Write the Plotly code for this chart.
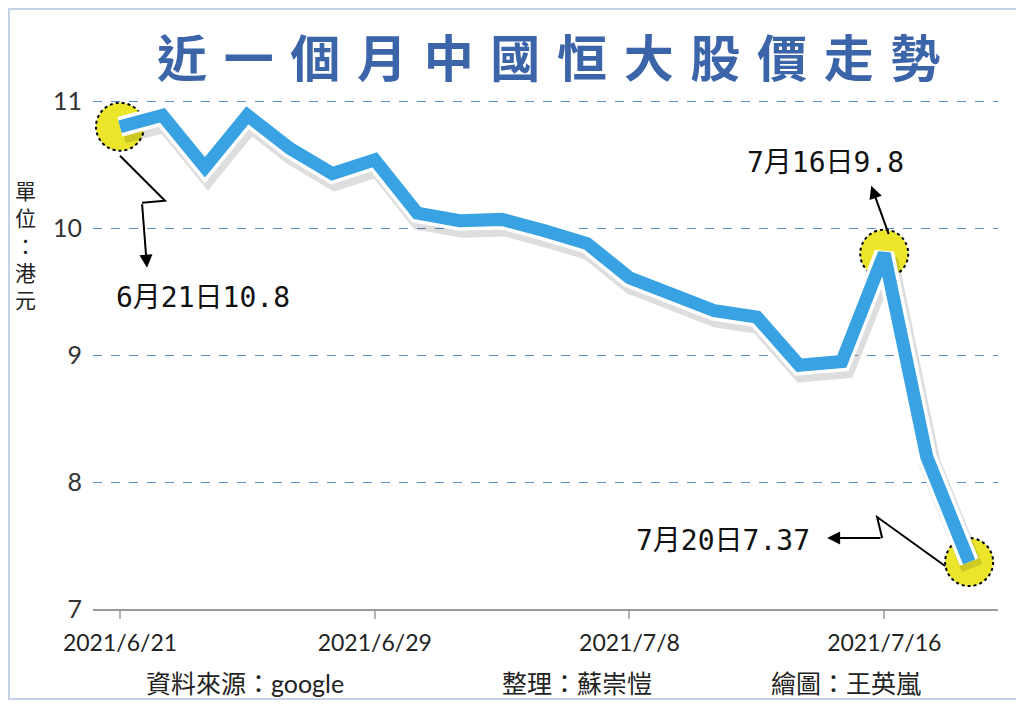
import plotly.graph_objects as go

# trading days of Evergrande (3333.HK), one month
DATES = ["2021/6/21", "2021/6/22", "2021/6/23", "2021/6/24", "2021/6/25",
         "2021/6/28", "2021/6/29", "2021/6/30", "2021/7/2", "2021/7/5",
         "2021/7/6", "2021/7/7", "2021/7/8", "2021/7/9", "2021/7/12",
         "2021/7/13", "2021/7/14", "2021/7/15", "2021/7/16", "2021/7/19",
         "2021/7/20"]
PRICES = [10.80, 10.89, 10.48, 10.89, 10.63, 10.43, 10.54, 10.12, 10.06, 10.07,
          9.98, 9.88, 9.61, 9.49, 9.35, 9.30, 8.92, 8.95, 9.80, 8.20, 7.37]
TICK_DATES = ["2021/6/21", "2021/6/29", "2021/7/8", "2021/7/16"]
Y_TICKS = [7, 8, 9, 10, 11]
HIGHLIGHT = ["2021/6/21", "2021/7/16", "2021/7/20"]
TITLE = "近一個月中國恒大股價走勢"
Y_UNIT = "單位：港元"
FOOTER = ["資料來源：google", "整理：蘇崇愷", "繪圖：王英嵐"]

# page has an 8px body margin, so the figure is drawn a bit smaller and
# every position below is given in screen pixels
OFF = 8
W, H = 1024 - OFF, 704 - OFF
PLOT_L, PLOT_R, PLOT_T, PLOT_B = 93, 998, 95, 609
X_RANGE = [-0.636, 20.68]
Y_RANGE = [7, 11.05]
LINE_BLUE = "#38a2e3"
CJK = "Noto Sans CJK TC"


def paper_x(px):
    return (px - PLOT_L) / (PLOT_R - PLOT_L)


def paper_y(py):
    return (PLOT_B - py) / (PLOT_B - PLOT_T)


ppx = (PLOT_R - PLOT_L) / (X_RANGE[1] - X_RANGE[0])
ppy = (PLOT_B - PLOT_T) / (Y_RANGE[1] - Y_RANGE[0])
shadow_dx, shadow_dy = 3, 6

idx = list(range(len(DATES)))

fig = go.Figure()
# soft shadow: same data on an overlay axis pair shifted a few pixels
fig.add_trace(go.Scatter(x=idx, y=PRICES, xaxis="x2", yaxis="y2", mode="lines",
                         line=dict(color="rgba(0,0,0,0.13)", width=22), hoverinfo="skip"))
fig.add_trace(go.Scatter(x=idx, y=PRICES, xaxis="x3", yaxis="y3", mode="lines",
                         line=dict(color="white", width=20), hoverinfo="skip"))
fig.add_trace(go.Scatter(x=idx, y=PRICES, xaxis="x3", yaxis="y3", mode="lines",
                         line=dict(color=LINE_BLUE, width=13)))

shapes = []
for d in HIGHLIGHT:
    i = DATES.index(d)
    shapes.append(dict(type="circle", xref="x", yref="y", xsizemode="pixel", ysizemode="pixel",
                       xanchor=i, yanchor=PRICES[i], x0=-24, x1=24, y0=-24, y1=24,
                       fillcolor="#ebe62a", line=dict(color="black", width=2, dash="dot"),
                       layer="between"))

# callouts: zigzag path, arrow (head shift, tail offset), text shift  -- all in pixels
CALLOUTS = {
    "2021/6/21": dict(path="M0,-29 L45,-74 L22,-76", head=(27, -141), tail=(-5, -65), text=(83, -171)),
    "2021/7/16": dict(path=None, head=(-13, 68), tail=(18, 50), text=(-59, 91)),
    "2021/7/20": dict(path="M-24,-4 L-92,45 L-87,24", head=(-142, 24), tail=(55, 0), text=(-246, 22)),
}

annotations = []
for d, c in CALLOUTS.items():
    i = DATES.index(d)
    m, day = d.split("/")[1:]
    label = f"{m}月{day}日{PRICES[i]:g}"
    if c["path"]:
        shapes.append(dict(type="path", xref="x", yref="y", xsizemode="pixel", ysizemode="pixel",
                           xanchor=i, yanchor=PRICES[i], path=c["path"],
                           line=dict(color="black", width=2), layer="above"))
    annotations.append(dict(x=i, y=PRICES[i], xref="x", yref="y", text="", showarrow=True,
                            xshift=c["head"][0], yshift=c["head"][1], ax=c["tail"][0], ay=c["tail"][1],
                            arrowhead=2, arrowsize=1.3, arrowwidth=2, arrowcolor="black",
                            standoff=0, startstandoff=0))
    annotations.append(dict(x=i, y=PRICES[i], xref="x", yref="y", text=label, showarrow=False,
                            xanchor="center", yanchor="middle",
                            xshift=c["text"][0], yshift=c["text"][1],
                            font=dict(family="DejaVu Sans Mono, " + CJK, size=28, color="#111")))

annotations.append(dict(x=paper_x(548), y=paper_y(55), xref="paper", yref="paper",
                        xanchor="center", yanchor="middle",
                        text="\u2004".join(TITLE), showarrow=False,
                        font=dict(family=CJK, size=50, color="#3b64a9", weight="bold")))
annotations.append(dict(x=paper_x(25), y=paper_y(245), xref="paper", yref="paper",
                        xanchor="center", yanchor="middle",
                        text="<br>".join(Y_UNIT), showarrow=False,
                        font=dict(family=CJK, size=21, color="#222")))
for txt, cx in zip(FOOTER, [245, 577, 846]):
    annotations.append(dict(x=paper_x(cx), y=paper_y(683), xref="paper", yref="paper",
                            xanchor="center", yanchor="middle",
                            text=txt, showarrow=False,
                            font=dict(family="Lato, " + CJK, size=25, color="#222")))

shapes.append(dict(type="rect", xref="paper", yref="paper",
                   x0=paper_x(9), x1=paper_x(1019), y0=paper_y(9), y1=paper_y(699),
                   line=dict(color="#c4d4e6", width=2), layer="below"))

fig.update_layout(
    width=W, height=H,
    margin=dict(l=PLOT_L - OFF, r=1024 - PLOT_R, t=PLOT_T - OFF, b=704 - PLOT_B, autoexpand=False),
    paper_bgcolor="white", plot_bgcolor="white", showlegend=False,
    xaxis=dict(range=X_RANGE, tickvals=[DATES.index(d) for d in TICK_DATES], ticktext=TICK_DATES,
               showgrid=False, zeroline=False, showline=True, linecolor="#9a9a9a", linewidth=2,
               ticks="outside", ticklen=8, tickcolor="#b5b5b5", tickwidth=1.5, ticklabelstandoff=4,
               tickfont=dict(family="Lato", size=23, color="#222")),
    yaxis=dict(range=Y_RANGE, tickvals=Y_TICKS, showgrid=True, gridcolor="#5b90c8",
               griddash="dash", gridwidth=1.3, zeroline=False, ticks="", ticklabelstandoff=10,
               tickfont=dict(family="Lato", size=25, color="#333")),
    xaxis2=dict(overlaying="x", range=[X_RANGE[0] - shadow_dx / ppx, X_RANGE[1] - shadow_dx / ppx],
                visible=False),
    yaxis2=dict(overlaying="y", range=[Y_RANGE[0] + shadow_dy / ppy, Y_RANGE[1] + shadow_dy / ppy],
                visible=False),
    xaxis3=dict(overlaying="x", range=X_RANGE, visible=False),
    yaxis3=dict(overlaying="y", range=Y_RANGE, visible=False),
    shapes=shapes, annotations=annotations,
)

fig.write_html("out.html")
